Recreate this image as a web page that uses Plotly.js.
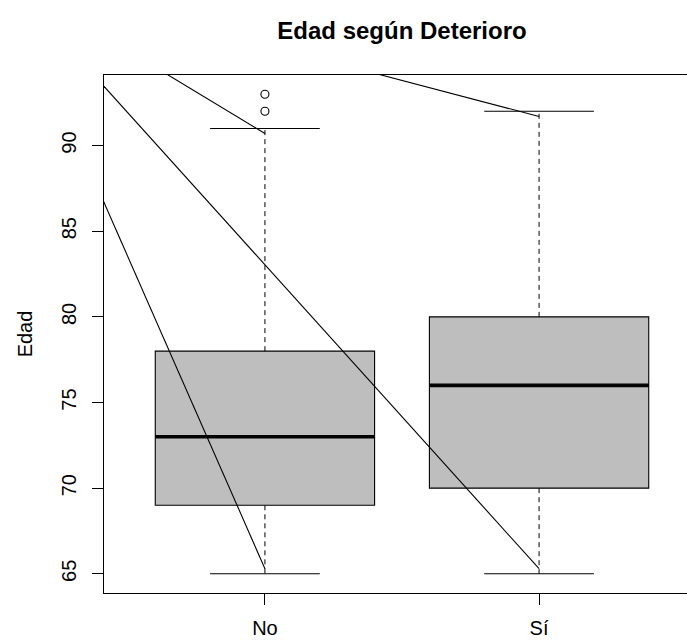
<!DOCTYPE html>
<html>
<head>
<meta charset="utf-8">
<script src="https://cdn.plot.ly/plotly-3.0.1.min.js"></script>
<style>
html, body { margin: 0; padding: 0; overflow: hidden; background: #fff; }
#chart { width: 700px; height: 640px; }
</style>
</head>
<body>
<div id="chart"></div>
<script>
// ---- data ----
const groups = ['No', 'Sí'];
const positions = [1, 2];
const q1 = [69, 70];
const medians = [73, 76];
const q3 = [78, 80];
const whiskerLow = [65, 65];
const whiskerHigh = [91, 92];
const outlierPos = [1, 1];
const outlierValues = [92, 93];
const yTicks = [65, 70, 75, 80, 85, 90];
// stray straight lines seen in the picture (start outside plot, clipped)
const strayStartX = [0.05, 0.05, 0.05, 0.05];
const strayStartY = [99.9, 99.9, 99.9, 99.9];
const strayEndX = [1, 2, 1, 2];
const strayEndY = [65.3, 65.3, 90.7, 91.7];

// ---- style ----
const FONT = '"Liberation Sans", Arial, Helvetica, sans-serif';
const boxWidth = 0.8;
const capHalf = 0.2;

const traces = [];

// boxes (fill + outline) through plotly box trace
traces.push({
  type: 'box',
  x: positions,
  q1: q1,
  median: medians,
  q3: q3,
  lowerfence: q1,
  upperfence: q3,
  width: boxWidth,
  whiskerwidth: 0,
  boxpoints: false,
  fillcolor: '#bebebe',
  line: { color: '#000000', width: 1.1 },
  hoverinfo: 'skip',
  showlegend: false
});

// medians (thick)
const medX = [], medY = [];
positions.forEach((p, i) => {
  medX.push(p - boxWidth / 2, p + boxWidth / 2, null);
  medY.push(medians[i], medians[i], null);
});
traces.push({ type: 'scatter', mode: 'lines', x: medX, y: medY,
  line: { color: '#000', width: 3.6 }, hoverinfo: 'skip', showlegend: false });

// dashed whiskers
const wX = [], wY = [];
positions.forEach((p, i) => {
  wX.push(p, p, null, p, p, null);
  wY.push(q3[i], whiskerHigh[i], null, q1[i], whiskerLow[i], null);
});
traces.push({ type: 'scatter', mode: 'lines', x: wX, y: wY,
  line: { color: '#000', width: 1, dash: '5px,4px' }, hoverinfo: 'skip', showlegend: false });

// whisker caps
const cX = [], cY = [];
positions.forEach((p, i) => {
  cX.push(p - capHalf, p + capHalf, null, p - capHalf, p + capHalf, null);
  cY.push(whiskerHigh[i], whiskerHigh[i], null, whiskerLow[i], whiskerLow[i], null);
});
traces.push({ type: 'scatter', mode: 'lines', x: cX, y: cY,
  line: { color: '#000', width: 1.1 }, hoverinfo: 'skip', showlegend: false });

// outliers
traces.push({ type: 'scatter', mode: 'markers', x: outlierPos, y: outlierValues,
  marker: { symbol: 'circle-open', size: 8, color: '#000', line: { width: 1.1, color: '#000' } },
  cliponaxis: true, hoverinfo: 'skip', showlegend: false });

// stray lines
const sX = [], sY = [];
strayStartX.forEach((x0, i) => {
  sX.push(x0, strayEndX[i], null);
  sY.push(strayStartY[i], strayEndY[i], null);
});
traces.push({ type: 'scatter', mode: 'lines', x: sX, y: sY,
  line: { color: '#000', width: 1.1 }, hoverinfo: 'skip', showlegend: false });

const layout = {
  width: 700,
  height: 640,
  margin: { l: 104, r: 0, t: 75, b: 47, pad: 0 },
  paper_bgcolor: '#ffffff',
  plot_bgcolor: '#ffffff',
  showlegend: false,
  font: { family: FONT, size: 20, color: '#000' },
  title: {
    text: '<b>Edad según Deterioro</b>',
    font: { family: FONT, size: 24, color: '#000' },
    x: 0.5, xref: 'paper', xanchor: 'center',
    y: 1 - 31 / 640, yref: 'container', yanchor: 'middle'
  },
  xaxis: {
    range: [0.413, 2.587],
    tickvals: positions,
    ticktext: groups,
    ticks: 'outside', ticklen: 11, tickwidth: 1, tickcolor: '#000',
    ticklabelstandoff: 6,
    showline: true, mirror: true, linecolor: '#000', linewidth: 1.1,
    showgrid: false, zeroline: false, automargin: false,
    tickfont: { family: FONT, size: 20, color: '#000' }
  },
  yaxis: {
    range: [63.88, 94.12],
    tickvals: yTicks,
    ticktext: yTicks.map(String),
    tickangle: -90,
    ticks: 'outside', ticklen: 11, tickwidth: 1, tickcolor: '#000',
    ticklabelstandoff: 8,
    showline: true, mirror: true, linecolor: '#000', linewidth: 1.1,
    showgrid: false, zeroline: false, automargin: false,
    tickfont: { family: FONT, size: 20, color: '#000' },
    title: { text: 'Edad', standoff: 19, font: { family: FONT, size: 20, color: '#000' } }
  }
};

Plotly.newPlot('chart', traces, layout, { staticPlot: true, displayModeBar: false });
</script>
</body>
</html>
